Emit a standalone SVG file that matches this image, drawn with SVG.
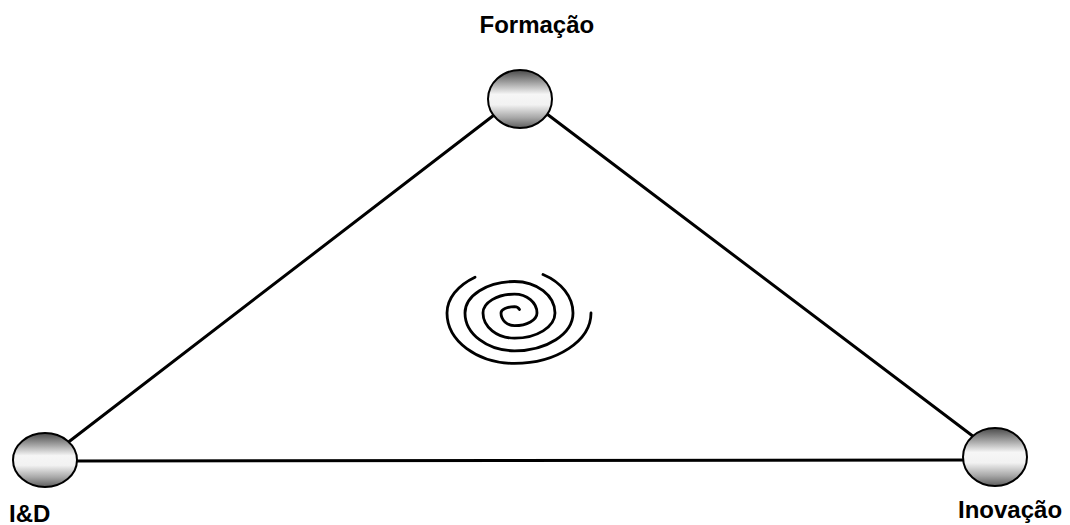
<svg xmlns="http://www.w3.org/2000/svg" width="1070" height="525" viewBox="0 0 1070 525">
  <defs>
    <linearGradient id="sphereGrad" x1="0" y1="0" x2="0" y2="1">
      <stop offset="0" stop-color="#4a4a4a"/>
      <stop offset="0.2" stop-color="#9a9a9a"/>
      <stop offset="0.42" stop-color="#f6f6f6"/>
      <stop offset="0.6" stop-color="#f2f2f2"/>
      <stop offset="0.82" stop-color="#a8a8a8"/>
      <stop offset="1" stop-color="#5e5e5e"/>
    </linearGradient>
  </defs>
  <style>
    .edge { stroke: #000; stroke-width: 3; fill: none; stroke-linecap: round; }
    .sphere { fill: url(#sphereGrad); stroke: #000; stroke-width: 2; }
    .label { font-family: "Liberation Sans", Arial, sans-serif; font-weight: bold; font-size: 24px; fill: #000; }
    .spiral { stroke: #000; stroke-width: 2.8; fill: none; stroke-linecap: round; }
  </style>
  <rect width="1070" height="525" fill="#fff"/>

  <g id="connectors">
    <line class="edge" x1="62" y1="447" x2="498" y2="112"/>
    <line class="edge" x1="543" y1="111" x2="978" y2="440"/>
    <line class="edge" x1="70" y1="461" x2="970" y2="460"/>
  </g>

  <g id="spiral">
    <path class="spiral" d="M 519.5 309.5 A 6 5 0 0 0 514.5 306.7 A 13.5 6.3 0 0 0 501 313 A 13.5 12.6 0 0 0 514.5 325.6 A 22.5 12.6 0 0 0 537 313 A 22.5 18.9 0 0 0 514.5 294.1 A 31.5 18.9 0 0 0 483 313 A 31.5 25.2 0 0 0 514.5 338.2 A 40.5 25.2 0 0 0 555 313 A 40.5 31.5 0 0 0 514.5 281.5 A 49.5 31.5 0 0 0 465 313 A 49.5 37.8 0 0 0 514.5 350.8 A 58.5 37.8 0 0 0 573 313 A 58.5 44.1 0 0 0 543 274.5"/>
    <path class="spiral" d="M 475 277.2 A 67.5 44.1 0 0 0 447 313 A 67.5 50.4 0 0 0 514.5 363.4 A 76.5 50.4 0 0 0 591 313"/>
  </g>

  <g id="node-formacao">
    <ellipse class="sphere" cx="520" cy="99" rx="32" ry="29"/>
    <text class="label" x="479.5" y="33">Formação</text>
  </g>

  <g id="node-id">
    <ellipse class="sphere" cx="45" cy="460" rx="32" ry="27"/>
    <text class="label" x="9" y="522">I&amp;D</text>
  </g>

  <g id="node-inovacao">
    <ellipse class="sphere" cx="995" cy="457" rx="32" ry="29"/>
    <text class="label" x="958" y="518">Inovação</text>
  </g>
</svg>
